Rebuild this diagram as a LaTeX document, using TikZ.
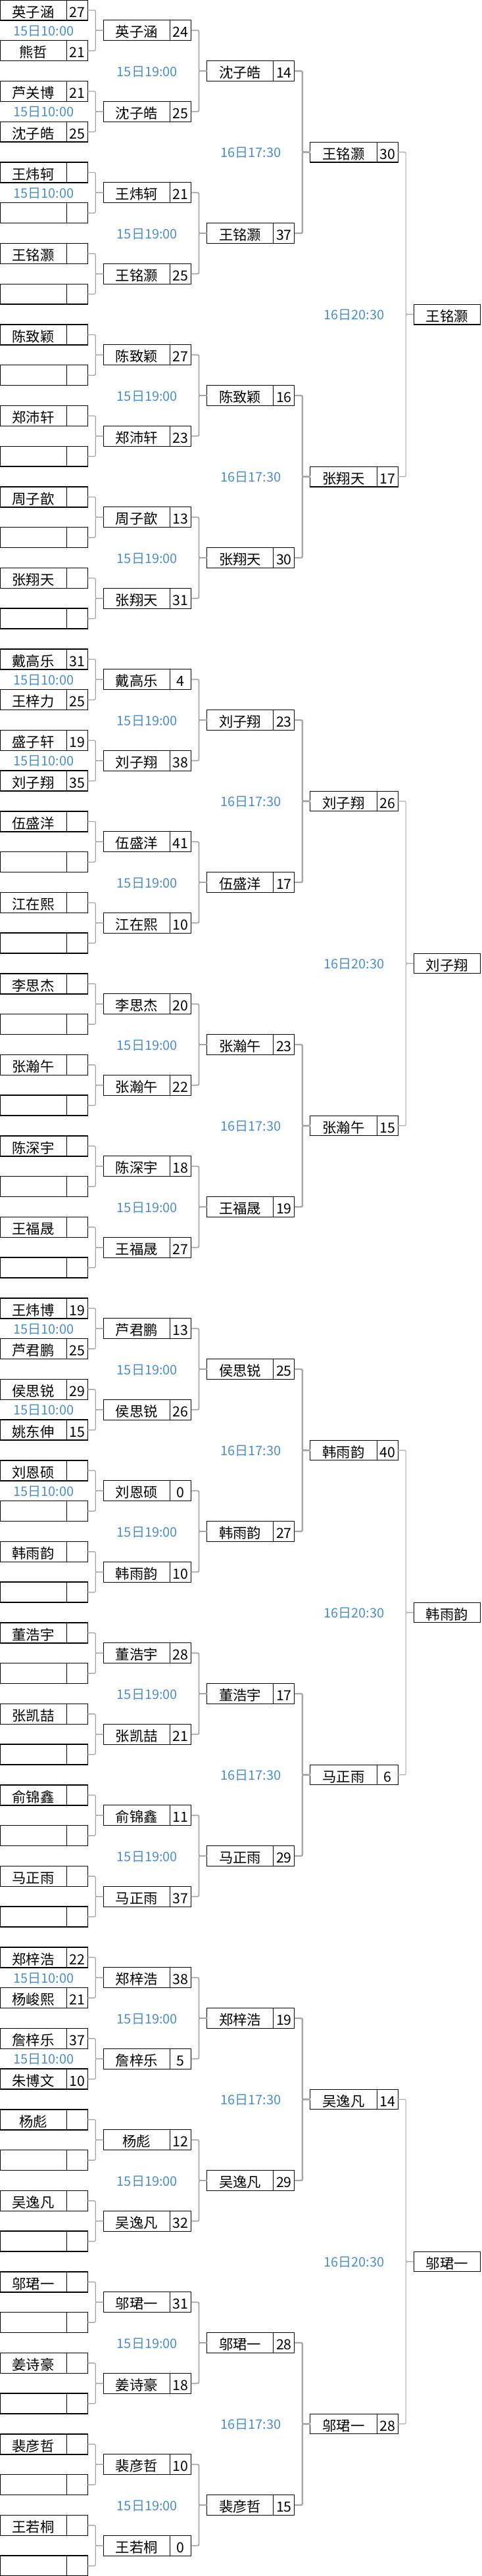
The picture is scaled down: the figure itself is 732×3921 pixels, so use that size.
\documentclass[tikz,border=0pt]{standalone}
\usepackage{fontspec}
\setmainfont{Noto Sans CJK SC}
\definecolor{timeblue}{RGB}{72,142,214}
\definecolor{conngray}{RGB}{166,166,166}
\def\rh{30.874}
\tikzset{
  cellbase/.style={draw=black, inner sep=0pt, outer sep=0pt, minimum height=23.15pt,
    font=\fontsize{16pt}{16pt}\selectfont, text height=16pt, text depth=0pt},
  namebox/.style={cellbase, minimum width=75.98pt, anchor=north west},
  scorebox/.style={cellbase, minimum width=24pt, anchor=west},
  firstline/.style={line width=1.1pt},
  laterline/.style={line width=0.8pt},
  conn/.style={draw=conngray, rounded corners=1.5pt},
  timelbl/.style={text=timeblue, inner sep=0pt, font=\fontsize{15pt}{15pt}\selectfont, text height=12.2pt, text depth=0pt}
}
\begin{document}
\begin{tikzpicture}[x=0.75pt,y=-0.75pt]
\useasboundingbox (0,0) rectangle (732,3921);
% ---------- round 1 ----------
\foreach \e/\nm/\sc in {
 0/英子涵/27,1/熊哲/21,2/芦关博/21,3/沈子皓/25,4/王炜轲/{},5/{}/{},6/王铭灏/{},7/{}/{},
 8/陈致颖/{},9/{}/{},10/郑沛轩/{},11/{}/{},12/周子歆/{},13/{}/{},14/张翔天/{},15/{}/{},
 16/戴高乐/31,17/王梓力/25,18/盛子轩/19,19/刘子翔/35,20/伍盛洋/{},21/{}/{},22/江在熙/{},23/{}/{},
 24/李思杰/{},25/{}/{},26/张瀚午/{},27/{}/{},28/陈深宇/{},29/{}/{},30/王福晟/{},31/{}/{},
 32/王炜博/19,33/芦君鹏/25,34/侯思锐/29,35/姚东伸/15,36/刘恩硕/{},37/{}/{},38/韩雨韵/{},39/{}/{},
 40/董浩宇/{},41/{}/{},42/张凯喆/{},43/{}/{},44/俞锦鑫/{},45/{}/{},46/马正雨/{},47/{}/{},
 48/郑梓浩/22,49/杨峻熙/21,50/詹梓乐/37,51/朱博文/10,52/杨彪/{},53/{}/{},54/吴逸凡/{},55/{}/{},
 56/邬珺一/{},57/{}/{},58/姜诗豪/{},59/{}/{},60/裴彦哲/{},61/{}/{},62/王若桐/{},63/{}/{}} {
  \pgfmathtruncatemacro\row{2*\e}
  \node[namebox,firstline] (n-0-\e) at (0,{\row*\rh}) {\nm};
  \node[scorebox,firstline] (s-0-\e) at (n-0-\e.east) {\sc};
}
% ---------- round 2 ----------
\foreach \e/\nm/\sc in {
 0/英子涵/24,1/沈子皓/25,2/王炜轲/21,3/王铭灏/25,4/陈致颖/27,5/郑沛轩/23,6/周子歆/13,7/张翔天/31,
 8/戴高乐/4,9/刘子翔/38,10/伍盛洋/41,11/江在熙/10,12/李思杰/20,13/张瀚午/22,14/陈深宇/18,15/王福晟/27,
 16/芦君鹏/13,17/侯思锐/26,18/刘恩硕/0,19/韩雨韵/10,20/董浩宇/28,21/张凯喆/21,22/俞锦鑫/11,23/马正雨/37,
 24/郑梓浩/38,25/詹梓乐/5,26/杨彪/12,27/吴逸凡/32,28/邬珺一/31,29/姜诗豪/18,30/裴彦哲/10,31/王若桐/0} {
  \pgfmathtruncatemacro\row{4*\e+1}
  \node[namebox,laterline] (n-1-\e) at (157.3,{\row*\rh}) {\nm};
  \node[scorebox,laterline] (s-1-\e) at (n-1-\e.east) {\sc};
}
% ---------- round 3 ----------
\foreach \e/\nm/\sc in {
 0/沈子皓/14,1/王铭灏/37,2/陈致颖/16,3/张翔天/30,4/刘子翔/23,5/伍盛洋/17,6/张瀚午/23,7/王福晟/19,
 8/侯思锐/25,9/韩雨韵/27,10/董浩宇/17,11/马正雨/29,12/郑梓浩/19,13/吴逸凡/29,14/邬珺一/28,15/裴彦哲/15} {
  \pgfmathtruncatemacro\row{8*\e+3}
  \node[namebox,laterline] (n-2-\e) at (314.6,{\row*\rh}) {\nm};
  \node[scorebox,laterline] (s-2-\e) at (n-2-\e.east) {\sc};
}
% ---------- round 4 ----------
\foreach \e/\nm/\sc in {
 0/王铭灏/30,1/张翔天/17,2/刘子翔/26,3/张瀚午/15,4/韩雨韵/40,5/马正雨/6,6/吴逸凡/14,7/邬珺一/28} {
  \pgfmathtruncatemacro\row{16*\e+7}
  \node[namebox,laterline] (n-3-\e) at (471.9,{\row*\rh}) {\nm};
  \node[scorebox,laterline] (s-3-\e) at (n-3-\e.east) {\sc};
}
% ---------- winners ----------
\foreach \e/\nm in {0/王铭灏,1/刘子翔,2/韩雨韵,3/邬珺一} {
  \pgfmathtruncatemacro\row{32*\e+15}
  \node[namebox,laterline] (n-4-\e) at (629.2,{\row*\rh}) {\nm};
}
% ---------- connectors ----------
\foreach \c/\N/\w in {0/63/0.98pt,1/31/1.35pt,2/15/1.8pt,3/7/0.9pt} {
  \foreach \i in {0,...,\N} {
    \pgfmathtruncatemacro\j{floor(\i/2)}
    \pgfmathtruncatemacro\cn{\c+1}
    \draw[conn,line width=\w] (s-\c-\i.east) -- ++(11.9,0) |- (n-\cn-\j.west);
  }
}
% ---------- times ----------
\foreach \k in {0,1,2,8,9,16,17,18,24,25} {
  \node[timelbl] (t-0-\k) at (66.65,{(4*\k+1.5)*\rh}) {15日10:00};
}
\foreach \k in {0,...,15} {
  \node[timelbl] (t-1-\k) at (223.95,{(8*\k+3.5)*\rh}) {15日19:00};
}
\foreach \k in {0,...,7} {
  \node[timelbl] (t-2-\k) at (381.25,{(16*\k+7.5)*\rh}) {16日17:30};
}
\foreach \k in {0,...,3} {
  \node[timelbl] (t-3-\k) at (538.55,{(32*\k+15.5)*\rh}) {16日20:30};
}
\end{tikzpicture}
\end{document}
